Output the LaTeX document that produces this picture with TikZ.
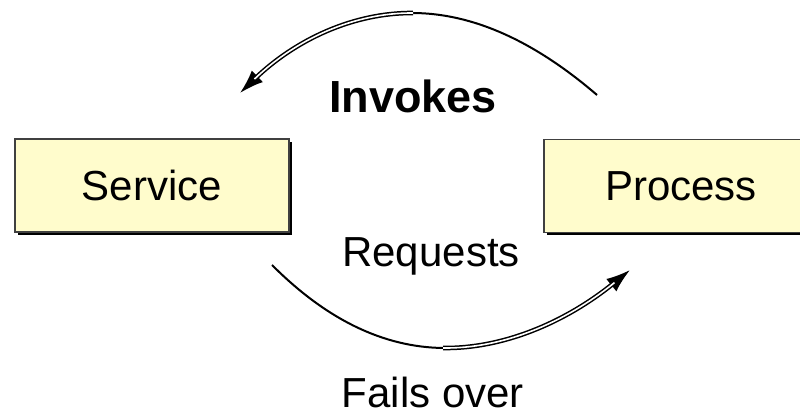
\documentclass[tikz,border=0pt]{standalone}
\usepackage{fontspec}
\setmainfont{Liberation Sans}
\usetikzlibrary{arrows.meta,shadows,calc,positioning}
\begin{document}
\begin{tikzpicture}[x=1pt,y=1pt,
  unit/.style={draw=black!75,line width=1.2pt,fill=yellow!20,minimum width=274pt,minimum height=93pt,inner sep=0pt,font=\fontsize{42}{48}\selectfont,drop shadow={shadow xshift=3pt,shadow yshift=-3pt,fill=black,opacity=1}},
  lbl/.style={anchor=base,inner sep=0pt,font=\fontsize{42}{48}\selectfont},
  thinline/.style={line width=2pt},
  hollow/.style={double=white,double distance=1.6pt,line width=1.5pt},
  tip/.style={-{Latex[length=24pt,width=16pt]}}]
\clip (0,0) rectangle (800,414);
\node[unit] (service) at (152,228.5) {Service};
\node[unit] (process) at (681,228) {Process};
\node[lbl,font=\fontsize{45}{50}\selectfont\bfseries] (invokes) at (413,301) {Invokes};
\node[lbl] (requests) at (431,147) {Requests};
\node[lbl] (failsover) at (433,6) {Fails over};
% upper arc
\coordinate (up start) at (597,319);
\coordinate (up ctrl) at (407.5,482);
\coordinate (up end) at (240,321);
\coordinate (up a) at ($(up start)!0.5!(up ctrl)$);
\coordinate (up b) at ($(up ctrl)!0.5!(up end)$);
\coordinate (up peak) at ($(up a)!0.5!(up b)$);
\draw[thinline] (up start) .. controls ($(up start)!2/3!(up a)$) and ($(up peak)!2/3!(up a)$) .. (up peak);
\draw[thinline,tip] (up peak) .. controls ($(up peak)!2/3!(up b)$) and ($(up end)!2/3!(up b)$) .. (up end);
\draw[hollow,shorten >=20pt] (up peak) .. controls ($(up peak)!2/3!(up b)$) and ($(up end)!2/3!(up b)$) .. (up end);
% lower arc
\coordinate (lo start) at (272,149);
\coordinate (lo ctrl) at (435,-14.5);
\coordinate (lo end) at (630,144);
\coordinate (lo a) at ($(lo start)!0.5!(lo ctrl)$);
\coordinate (lo b) at ($(lo ctrl)!0.5!(lo end)$);
\coordinate (lo bottom) at ($(lo a)!0.5!(lo b)$);
\draw[thinline] (lo start) .. controls ($(lo start)!2/3!(lo a)$) and ($(lo bottom)!2/3!(lo a)$) .. (lo bottom);
\draw[thinline,tip] (lo bottom) .. controls ($(lo bottom)!2/3!(lo b)$) and ($(lo end)!2/3!(lo b)$) .. (lo end);
\draw[hollow,shorten >=20pt] (lo bottom) .. controls ($(lo bottom)!2/3!(lo b)$) and ($(lo end)!2/3!(lo b)$) .. (lo end);
\end{tikzpicture}
\end{document}
